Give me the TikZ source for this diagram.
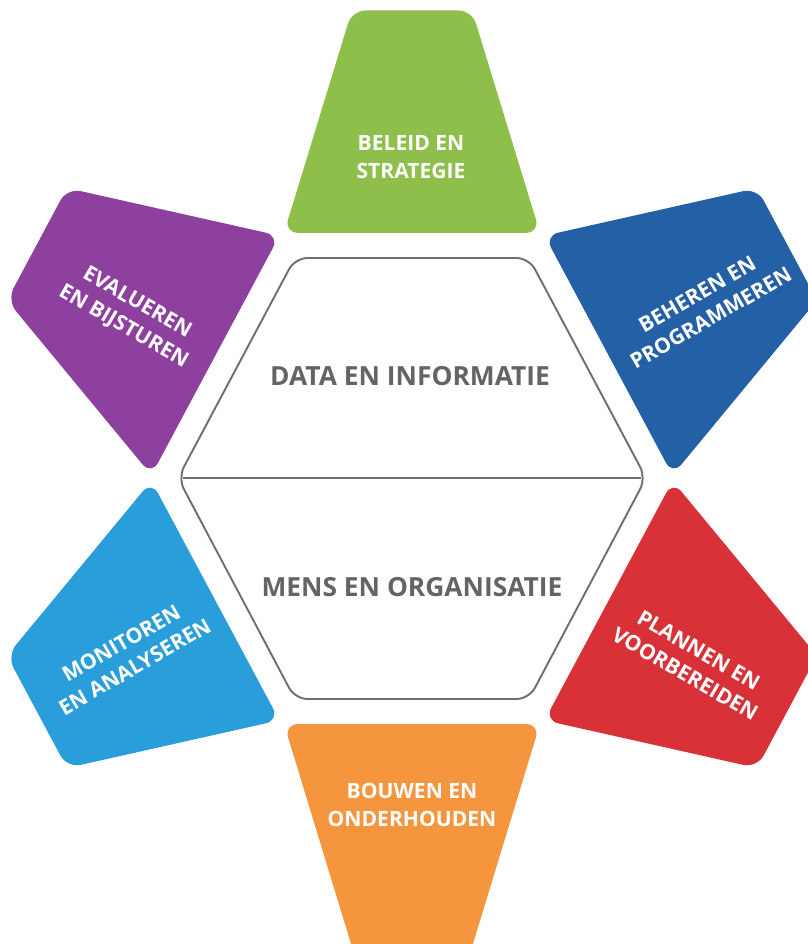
\documentclass[tikz,border=0pt]{standalone}
\usepackage{fontspec}
\setmainfont{Open Sans}
\definecolor{beleid}{RGB}{141,191,74}
\definecolor{beheren}{RGB}{36,96,166}
\definecolor{plannen}{RGB}{216,49,56}
\definecolor{bouwen}{RGB}{245,150,62}
\definecolor{monitoren}{RGB}{42,158,218}
\definecolor{evalueren}{RGB}{142,64,158}
\definecolor{hexgray}{RGB}{112,112,112}
\definecolor{layergray}{RGB}{100,100,100}
\tikzset{
  petal/.style={rounded corners=0.28cm},
  petaltext/.style={text=white, font=\bfseries\fontsize{12}{15.5}\selectfont, align=center, inner sep=0pt},
  layertext/.style={text=layergray, font=\bfseries\fontsize{15}{18}\selectfont, inner sep=0pt},
  hexline/.style={draw=hexgray, line width=1.1pt, rounded corners=0.25cm}
}
\begin{document}
\begin{tikzpicture}[x=0.02cm, y=-0.02cm]
    % canvas
    \clip (0,0) rectangle (808,944);

    % five coloured blocks round the hexagon
    \foreach \ang/\col in {0/beleid, -60/beheren, -120/plannen, 120/monitoren, 60/evalueren} {
        \begin{scope}[shift={(412,478)}, yscale=1.08, rotate=\ang]
            \fill[petal, \col] (-128,-227) -- (-60,-433) -- (60,-433) -- (128,-227) -- cycle;
        \end{scope}
    }
    % bottom block runs off the page
    \fill[petal, bouwen] (284,724) -- (540,724) -- (465,970) -- (359,970) -- cycle;

    % hexagon
    \coordinate (hexL) at (178,478);
    \coordinate (hexR) at (646,478);
    \draw[hexline] (hexL) -- (295,258) -- (529,258) -- (hexR) -- (529,699) -- (295,699) -- cycle;
    \draw[draw=hexgray, line width=1.1pt] ([xshift=3]hexL) -- ([xshift=-3]hexR);

    % labels
    \node[layertext] (data) at (410,376) {DATA EN INFORMATIE};
    \node[layertext] (mens) at (412,587) {MENS EN ORGANISATIE};

    \node[petaltext] (beleidlbl) at (411,157) {BELEID EN\\STRATEGIE};
    \node[petaltext, rotate=30] (beherenlbl) at (704,306) {BEHEREN EN\\PROGRAMMEREN};
    \node[petaltext, rotate=-30] (plannenlbl) at (692,662) {PLANNEN EN\\VOORBEREIDEN};
    \node[petaltext] (bouwenlbl) at (412,805) {BOUWEN EN\\ONDERHOUDEN};
    \node[petaltext, rotate=30] (monitorenlbl) at (128,655) {MONITOREN\\EN ANALYSEREN};
    \node[petaltext, rotate=-30] (evaluerenlbl) at (130,315) {EVALUEREN\\EN BIJSTUREN};
\end{tikzpicture}
\end{document}
